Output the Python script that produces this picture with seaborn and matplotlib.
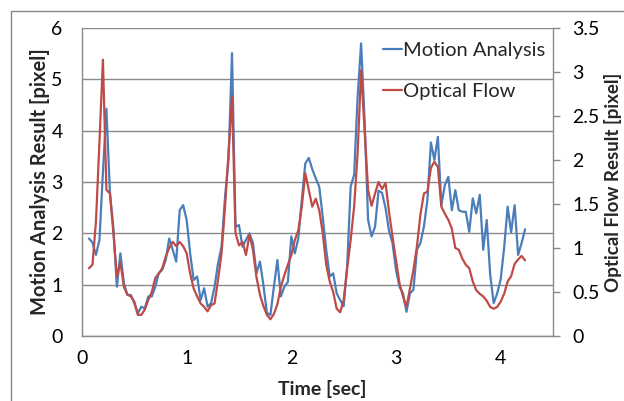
import numpy as np
import pandas as pd
import seaborn as sns
import matplotlib
matplotlib.use('Agg')
import matplotlib.pyplot as plt
from matplotlib.patches import Rectangle
from matplotlib.ticker import FuncFormatter

# values, one per video frame (30 fps, starting at frame 2)
motion_px = [1.90, 1.82, 1.58, 1.87, 3.20, 4.43, 2.80, 2.10, 0.96, 1.61,
             1.03, 0.80, 0.80, 0.64, 0.44, 0.57, 0.54, 0.77, 0.77, 0.96,
             1.22, 1.29, 1.48, 1.90, 1.68, 1.45, 2.45, 2.55, 2.26, 1.61,
             1.09, 1.16, 0.70, 0.93, 0.57, 0.64, 0.96, 1.42, 1.74, 2.71,
             3.43, 5.51, 2.13, 2.16, 1.74, 1.87, 2.00, 1.81, 1.22, 1.45,
             0.99, 0.45, 0.41, 0.96, 1.48, 0.77, 0.96, 1.05, 1.94, 1.61,
             1.90, 2.65, 3.36, 3.47, 3.25, 3.07, 2.91, 2.32, 1.68, 1.16,
             1.22, 0.83, 0.70, 0.58, 1.35, 2.91, 3.14, 4.66, 5.70, 4.21,
             2.26, 1.94, 2.13, 2.83, 2.79, 2.49, 2.05, 1.81, 1.29, 0.96,
             0.83, 0.47, 0.83, 0.90, 1.68, 1.81, 2.13, 2.65, 3.77, 3.43,
             3.88, 2.55, 2.94, 3.10, 2.45, 2.84, 2.45, 2.42, 2.42, 2.03,
             2.68, 2.39, 2.75, 1.68, 2.26, 1.19, 0.64, 0.83, 1.10, 1.72,
             2.52, 2.02, 2.55, 1.58, 1.81, 2.08]

flow_px = [0.77, 0.81, 1.30, 2.20, 3.14, 1.66, 1.62, 1.17, 0.67, 0.84,
           0.56, 0.47, 0.45, 0.39, 0.24, 0.24, 0.30, 0.41, 0.50, 0.66,
           0.71, 0.77, 0.90, 1.00, 1.07, 1.02, 1.07, 1.02, 0.94, 0.71,
           0.54, 0.45, 0.37, 0.33, 0.28, 0.35, 0.37, 0.64, 0.94, 1.47,
           2.08, 2.72, 1.17, 1.03, 1.07, 0.92, 1.15, 0.98, 0.67, 0.47,
           0.34, 0.24, 0.19, 0.25, 0.36, 0.56, 0.69, 0.81, 0.92, 1.09,
           1.20, 1.47, 1.85, 1.66, 1.47, 1.56, 1.43, 1.17, 0.81, 0.62,
           0.50, 0.31, 0.27, 0.41, 0.77, 1.09, 1.47, 2.08, 3.02, 2.34,
           1.66, 1.48, 1.62, 1.75, 1.67, 1.74, 1.41, 1.13, 0.86, 0.60,
           0.45, 0.33, 0.54, 0.75, 1.02, 1.38, 1.62, 1.64, 1.91, 1.98,
           1.92, 1.47, 1.39, 1.32, 1.22, 1.00, 0.98, 0.88, 0.81, 0.77,
           0.62, 0.52, 0.48, 0.45, 0.40, 0.33, 0.31, 0.33, 0.39, 0.48,
           0.62, 0.68, 0.82, 0.87, 0.91, 0.86]

fps = 30
first_frame = 2
left_ticks = [0, 1, 2, 3, 4, 5, 6]
right_ticks = [0, 0.5, 1, 1.5, 2, 2.5, 3, 3.5]
x_ticks = [0, 1, 2, 3, 4]

BLUE = '#4a7ebb'
RED = '#be4b48'
GRAY = '#898989'

df = pd.DataFrame({
    'time': (first_frame + np.arange(len(motion_px))) / fps,
    'motion': motion_px,
    'flow': flow_px,
})

sns.set_style('white')
plt.rcParams['font.family'] = ['Lato', 'DejaVu Sans']

fig = plt.figure(figsize=(6.24, 4.01), dpi=100)
ax = fig.add_axes([82 / 624, 65 / 401, 471 / 624, 308 / 401])
ax2 = ax.twinx()

sns.lineplot(data=df, x='time', y='motion', ax=ax, color=BLUE, lw=1.6,
             label='Motion Analysis', legend=False)
sns.lineplot(data=df, x='time', y='flow', ax=ax2, color=RED, lw=1.6,
             label='Optical Flow', legend=False)

ax.set_xlim(0, 4.5)
ax.set_ylim(0, 6)
ax2.set_ylim(0, 3.5)
ax.set_xticks(x_ticks)
ax.set_yticks(left_ticks)
ax2.set_yticks(right_ticks)
ax2.yaxis.set_major_formatter(FuncFormatter(lambda v, p: '{:g}'.format(v)))

ax.yaxis.grid(True, color=GRAY, lw=1)
ax.set_axisbelow(True)

for a in (ax, ax2):
    for s in a.spines.values():
        s.set_color(GRAY)
        s.set_linewidth(1)
    a.spines['top'].set_visible(False)
ax.spines['right'].set_visible(False)
ax2.spines['left'].set_visible(False)
ax2.spines['bottom'].set_visible(False)

ax.tick_params(axis='y', length=0, pad=14, labelsize=14, colors='black')
ax.tick_params(axis='x', length=0, pad=10, labelsize=14, colors='black')
ax2.tick_params(axis='y', length=5, width=1, color=GRAY, pad=9,
                labelsize=14, labelcolor='black')

ax.set_xlabel('Time [sec]', fontsize=14, fontweight='bold')
ax.set_ylabel('Motion Analysis Result [pixel]', fontsize=14.5, fontweight='bold')
ax2.set_ylabel('Optical Flow Result [pixel]', fontsize=13.5, fontweight='bold')
ax.xaxis.set_label_coords(0.51, -0.143)
ax.yaxis.set_label_coords(-0.068, 0.5)
ax2.yaxis.set_label_coords(1.1085, 0.5)

handles = ax.get_lines()[:1] + ax2.get_lines()[:1]
ax2.legend(handles, [h.get_label() for h in handles], loc='upper left',
           bbox_to_anchor=(0.639, 0.955), frameon=False, fontsize=14.5,
           handlelength=0.95, handletextpad=0.05, labelspacing=1.2,
           borderpad=0, borderaxespad=0)

fig.patches.append(Rectangle((10.5 / 624, -0.5), 2, (401 - 10.5) / 401 + 0.5,
                             transform=fig.transFigure, fill=False,
                             ec=GRAY, lw=1))

fig.savefig('out.png', dpi=100)
